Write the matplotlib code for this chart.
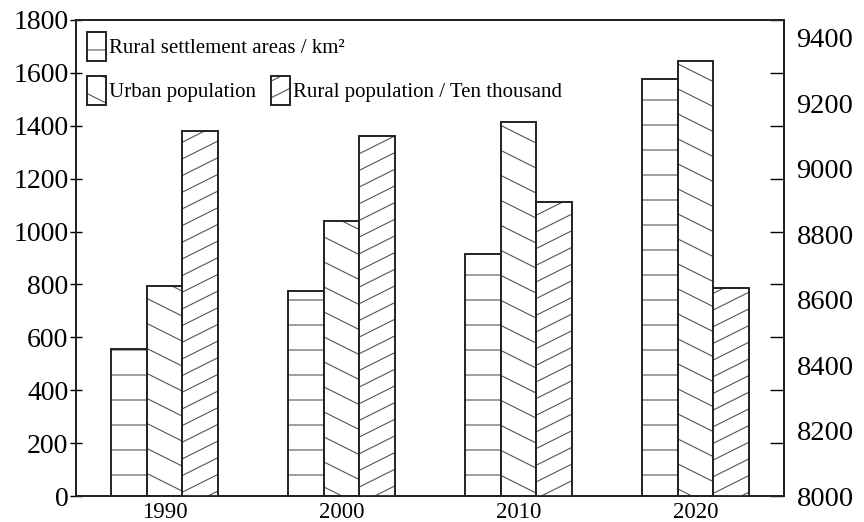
import numpy as np
import matplotlib
matplotlib.use("Agg")
import matplotlib.pyplot as plt
import matplotlib.hatch as mhatch
from matplotlib.path import Path

# ---- data ------------------------------------------------------------------
YEARS           = ["1990", "2000", "2010", "2020"]
SETTLEMENT_AREA = [555, 775, 915, 1575]      # km2, left axis
URBAN_POP       = [795, 1040, 1415, 1645]    # ten thousand, left axis
RURAL_POP       = [9115, 9100, 8900, 8635]   # ten thousand, right axis
LEFT_TICKS      = list(range(0, 1801, 200))
RIGHT_TICKS     = list(range(8000, 9401, 200))

LABELS = ["Rural settlement areas / km\u00b2",
          "Urban population",
          "Rural population / Ten thousand"]

EDGE  = "#222222"
HATCH = "#555555"


# matplotlib only draws 45 degree hatches at a fixed density, the original
# uses shallower, wider spaced lines -> swap in our own line patterns
def line_hatch(char, per_unit, slope):
    class LineHatch(mhatch.HatchPatternBase):
        def __init__(self, hatch, density):
            if char in hatch:
                lo = int(np.floor(min(0, -slope) * per_unit))
                hi = int(np.ceil(max(1, 1 - slope) * per_unit))
                self.offsets = np.arange(lo, hi + 1) / per_unit
            else:
                self.offsets = np.empty(0)
            self.num_vertices = 2 * len(self.offsets)

        def set_vertices_and_codes(self, vertices, codes):
            vertices[0::2, 0] = 0.0
            vertices[0::2, 1] = self.offsets
            vertices[1::2, 0] = 1.0
            vertices[1::2, 1] = self.offsets + slope
            codes[0::2] = Path.MOVETO
            codes[1::2] = Path.LINETO
    return LineHatch


mhatch._hatch_types = [
    line_hatch("-", 4, 0.0),
    line_hatch("\\", 4, -0.5),
    line_hatch("/", 6, 0.5),
]

plt.rcParams["font.family"] = "Liberation Serif"
plt.rcParams["hatch.linewidth"] = 0.8

fig = plt.figure(figsize=(8.64, 5.22), dpi=100)
ax = fig.add_axes([0.088, 0.0498, 0.8194, 0.9119])
ax2 = ax.twinx()

x = np.arange(len(YEARS))
w = 0.2


def hatched_bar(a, pos, vals, hatch):
    # hatch drawn in grey, outline drawn on top in near black
    h = a.bar(pos, vals, w, facecolor="white", edgecolor=HATCH,
              linewidth=0, hatch=hatch)
    o = a.bar(pos, vals, w, fill=False, edgecolor=EDGE, linewidth=1.4)
    return (h, o)


b1 = hatched_bar(ax, x - w, SETTLEMENT_AREA, "-")
b2 = hatched_bar(ax, x, URBAN_POP, "\\")
b3 = hatched_bar(ax2, x + w, RURAL_POP, "/")

ax.set_xlim(-0.5, 3.5)
ax.set_ylim(0, 1800)
ax2.set_ylim(8000, 9455)

ax.set_xticks(x, YEARS)
ax.set_yticks(LEFT_TICKS)
ax.tick_params(axis="x", length=0, pad=4, labelsize=16.5)
ax.tick_params(axis="y", direction="inout", length=9, pad=1, labelsize=20,
               width=1.0)
ax2.set_yticks(RIGHT_TICKS)
ax2.tick_params(axis="y", length=0, pad=9, labelsize=20.5)

# the left axis ticks are repeated (inward) on the right spine
sec = ax.secondary_yaxis("right")
sec.set_yticks(LEFT_TICKS)
sec.tick_params(direction="in", length=10, width=1.0, labelright=False)

for a in (ax, ax2, sec):
    for s in a.spines.values():
        s.set_linewidth(1.3)
        s.set_color(EDGE)

leg_kw = dict(loc="upper left", frameon=False, borderpad=0, borderaxespad=0,
              fontsize=15, handlelength=0.92, handleheight=1.75,
              handletextpad=0.15)
leg1 = ax2.legend([b1], [LABELS[0]], bbox_to_anchor=(0.0155, 0.975), **leg_kw)
ax2.add_artist(leg1)
ax2.legend([b2, b3], LABELS[1:], bbox_to_anchor=(0.0155, 0.882), ncol=2,
           columnspacing=0.7, **leg_kw)

fig.savefig("out.png", dpi=100)
